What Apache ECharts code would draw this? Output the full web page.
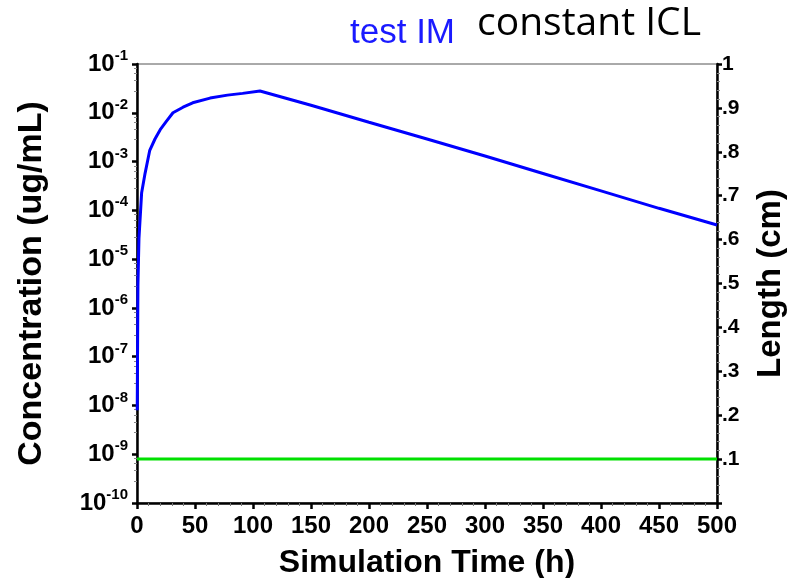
<!DOCTYPE html>
<html>
<head>
<meta charset="utf-8">
<script src="https://cdn.jsdelivr.net/npm/echarts@6/dist/echarts.min.js"></script>
<style>html,body{margin:0;padding:0;background:#fff;}#c{width:787px;height:578px;}</style>
</head>
<body>
<div id="c"></div>
<script>
// Concentration (blue, left log axis)
var timeBlue = [0.2, 0.8, 1.7, 4, 7, 11, 15.5, 20, 25.6, 31, 39.7, 48, 63, 78, 91, 106, 150, 200, 250, 300, 350, 400, 450, 500];
var concBlue = [8e-9, 3e-6, 2.7e-5, 2.3e-4, 5.8e-4, 1.7e-3, 2.9e-3, 4.5e-3, 6.8e-3, 1.0e-2, 1.3e-2, 1.6e-2, 2.0e-2, 2.3e-2, 2.5e-2, 2.8e-2, 1.43e-2, 6.4e-3, 2.9e-3, 1.3e-3, 5.7e-4, 2.5e-4, 1.1e-4, 5.0e-5];
// Length (green, right axis)
var timeGreen = [0, 500];
var lengthGreen = [0.1, 0.1];
// Tick labels
var xTicks = [0, 50, 100, 150, 200, 250, 300, 350, 400, 450, 500];
var rightTickLabels = ['', '.1', '.2', '.3', '.4', '.5', '.6', '.7', '.8', '.9', '1'];

function pairs(xs, ys) { return xs.map(function (x, i) { return [x, ys[i]]; }); }

var chart = echarts.init(document.getElementById('c'));
var bold = 'Liberation Sans, Arial, sans-serif';
chart.setOption({
  animation: false,
  backgroundColor: '#fff',
  title: [
    { text: 'test IM', left: 345, top: 11, textStyle: { fontFamily: bold, fontWeight: 'normal', fontSize: 35, color: '#1a1aff' } },
    { text: 'constant ICL', left: 472, top: -1, textStyle: { fontFamily: 'Open Sans, Noto Sans, sans-serif', fontWeight: 'normal', fontSize: 39, color: '#000' } }
  ],
  grid: { left: 137, right: 70, top: 64, bottom: 75, show: true, borderColor: '#555', borderWidth: 1, outerBoundsMode: 'none', containLabel: false },
  xAxis: {
    type: 'value', min: 0, max: 500, interval: 50,
    name: 'Simulation Time (h)', nameLocation: 'middle', nameGap: 44,
    nameTextStyle: { fontFamily: bold, fontWeight: 'bold', fontSize: 32, color: '#000' },
    axisLine: { onZero: false, lineStyle: { color: '#000', width: 2.5 } },
    axisTick: { length: 6, lineStyle: { color: '#000', width: 2.5 } },
    minorTick: { show: true, splitNumber: 5, length: 3, lineStyle: { color: '#777', width: 1 } },
    splitLine: { show: false },
    axisLabel: { fontFamily: bold, fontWeight: 'bold', fontSize: 24, color: '#000', margin: 11,
      formatter: function (v) { return xTicks.indexOf(v) >= 0 ? String(v) : ''; } }
  },
  yAxis: [
    {
      type: 'log', logBase: 10, min: 1e-10, max: 1e-1, interval: 1,
      name: 'Concentration (ug/mL)', nameLocation: 'middle', nameGap: 88, nameRotate: 90,
      nameTextStyle: { fontFamily: bold, fontWeight: 'bold', fontSize: 34, color: '#000' },
      axisLine: { show: true, lineStyle: { color: '#000', width: 2.5 } },
      axisTick: { length: 5, lineStyle: { color: '#000', width: 2.5 } },
      minorTick: { show: true, splitNumber: 5, length: 3, lineStyle: { color: '#888', width: 1 } },
      splitLine: { show: false },
      axisLabel: {
        margin: 9,
        formatter: function (v) { return '{b|10}{s|' + Math.round(Math.log10(v)) + '}'; },
        rich: {
          b: { fontFamily: bold, fontWeight: 'bold', fontSize: 24, color: '#000' },
          s: { fontFamily: bold, fontWeight: 'bold', fontSize: 15, color: '#000', padding: [0, 0, 16, 0] }
        }
      }
    },
    {
      type: 'value', min: 0, max: 1, interval: 0.1, position: 'right',
      name: 'Length (cm)', nameLocation: 'middle', nameGap: 37, nameRotate: 90,
      nameTextStyle: { fontFamily: bold, fontWeight: 'bold', fontSize: 33, color: '#000' },
      axisLine: { show: true, lineStyle: { color: '#000', width: 2.5 } },
      axisTick: { length: 5, lineStyle: { color: '#000', width: 2.5 } },
      minorTick: { show: true, splitNumber: 5, length: 3, lineStyle: { color: '#888', width: 1 } },
      splitLine: { show: false },
      axisLabel: { fontFamily: bold, fontWeight: 'bold', fontSize: 21, color: '#000', margin: 5,
        formatter: function (v) { return rightTickLabels[Math.round(v * 10)]; } }
    }
  ],
  series: [
    { type: 'line', yAxisIndex: 0, data: pairs(timeBlue, concBlue), showSymbol: false, lineStyle: { color: '#0000ff', width: 3 }, z: 3 },
    { type: 'line', yAxisIndex: 1, data: pairs(timeGreen, lengthGreen), showSymbol: false, lineStyle: { color: '#00e000', width: 3 }, z: 2 }
  ]
});
</script>
</body>
</html>
